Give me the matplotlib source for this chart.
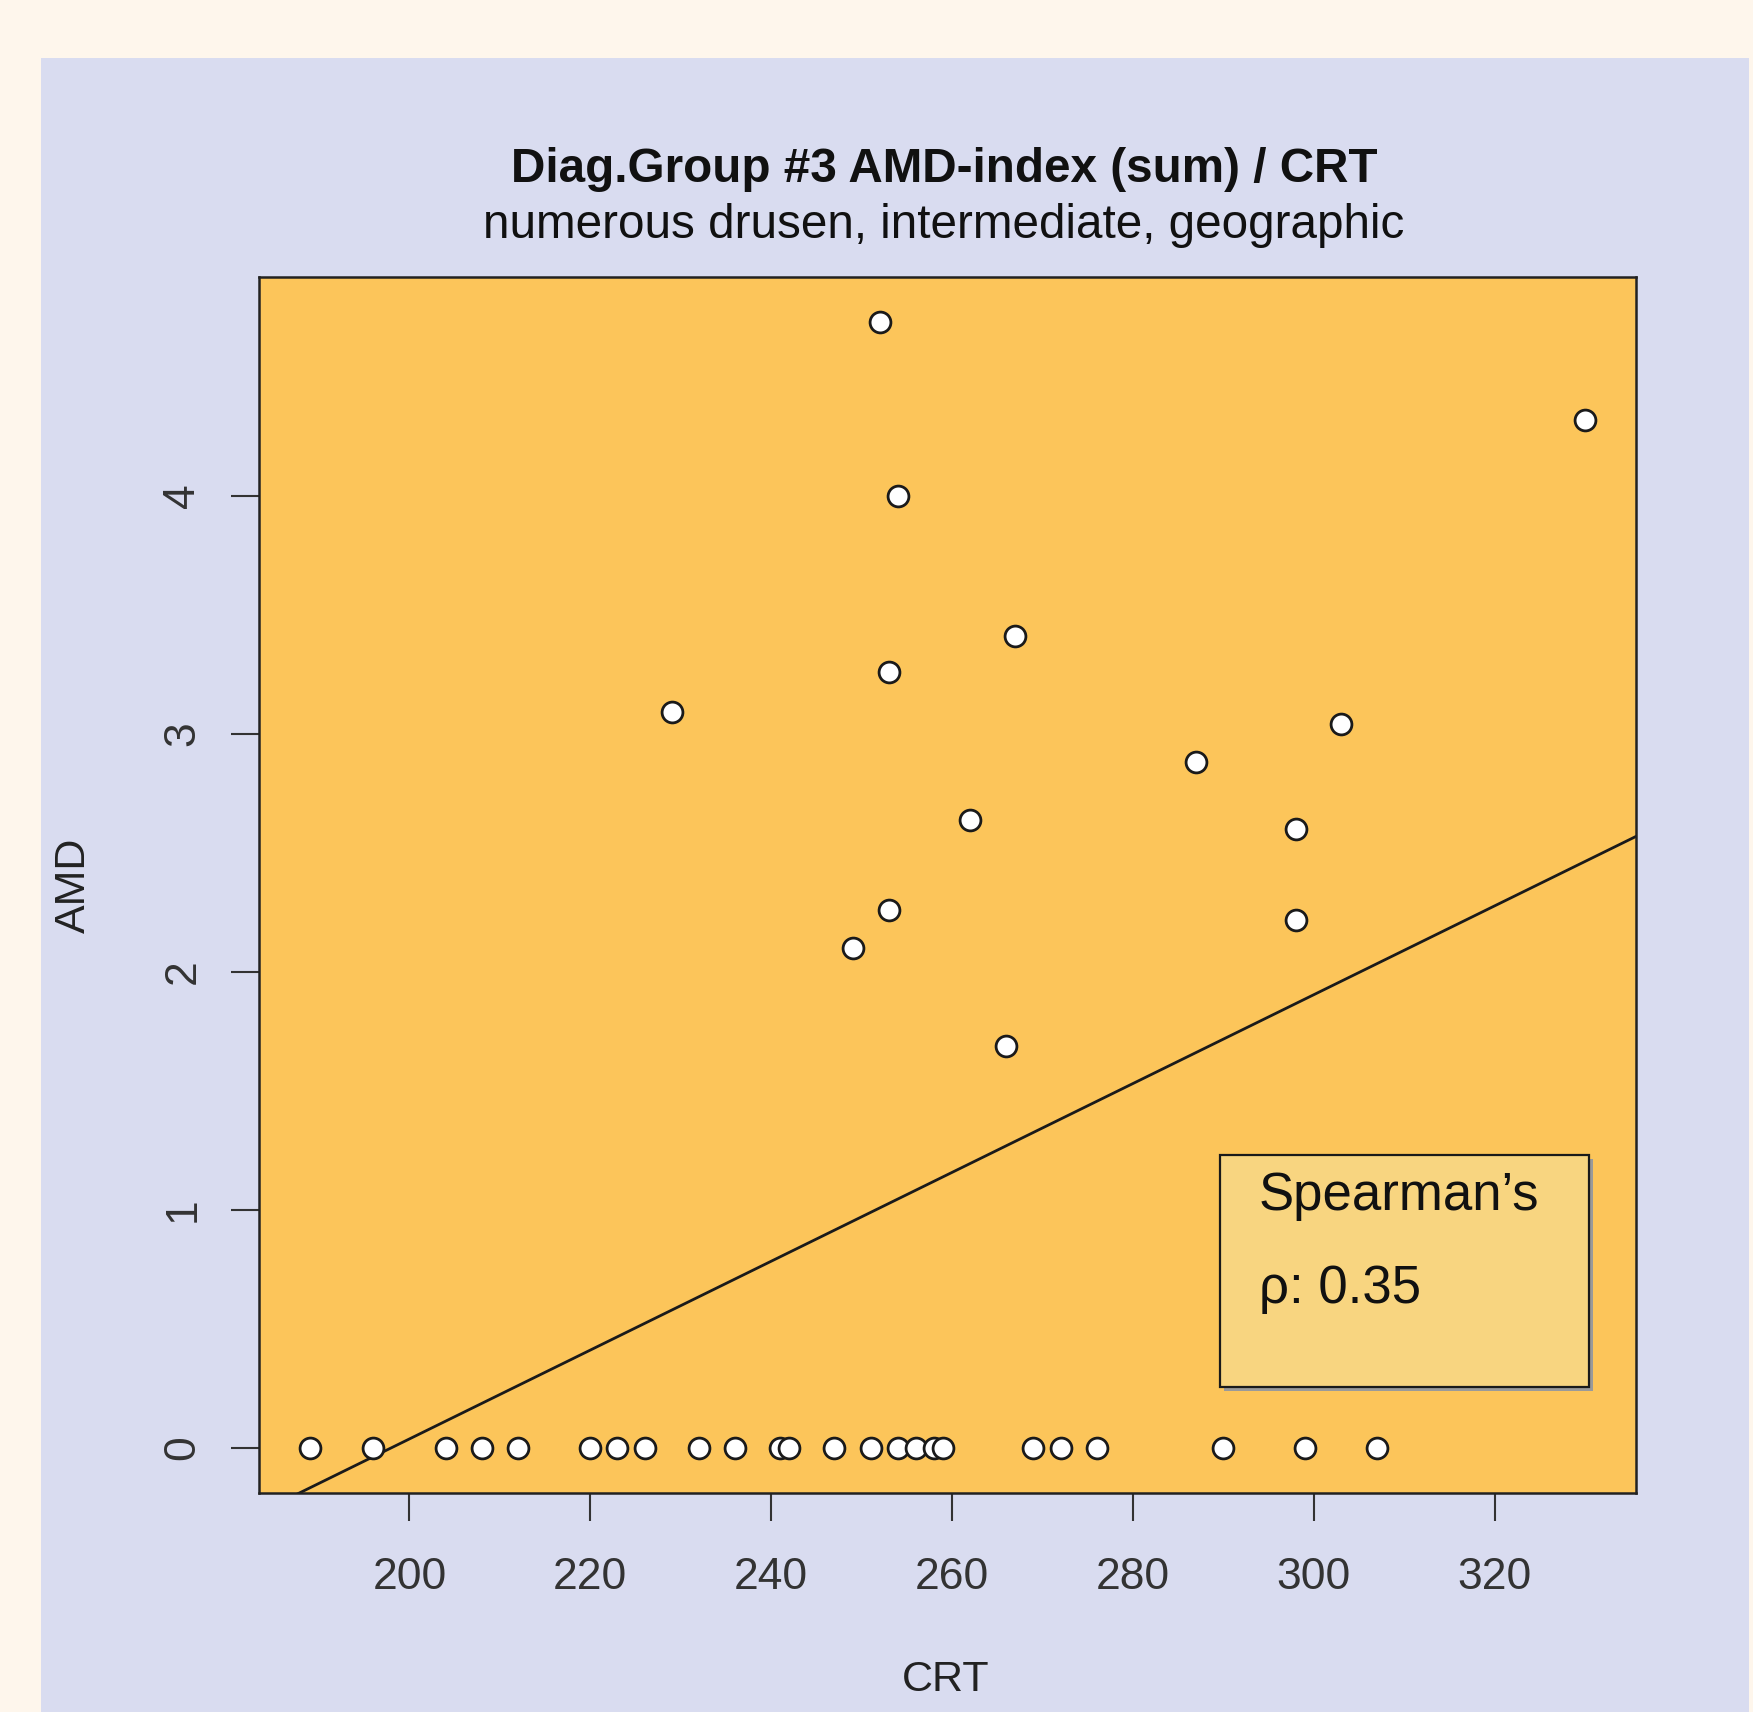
import matplotlib
matplotlib.use("Agg")
import matplotlib.pyplot as plt
from matplotlib.patches import Rectangle
import numpy as np

plt.rcParams['font.family'] = ['Liberation Sans', 'DejaVu Sans']

# CRT / AMD-index pairs, group 3
crt_pos = [252, 330, 254, 267, 253, 229, 303, 287, 262, 298, 253, 298, 249, 266]
amd_pos = [4.73, 4.32, 4.00, 3.41, 3.26, 3.09, 3.04, 2.88, 2.64, 2.60, 2.26, 2.22, 2.10, 1.69]
crt_zero = [189, 196, 204, 208, 212, 220, 223, 226, 232, 236, 241, 242, 247,
            251, 254, 256, 258, 259, 269, 272, 276, 290, 299, 307]
amd_zero = [0] * len(crt_zero)

# fitted trend line
line_slope = 0.01866
line_icpt = -3.694
rho = 0.35

xticks = [200, 220, 240, 260, 280, 300, 320]
yticks = [0, 1, 2, 3, 4]

crt = np.array(crt_pos + crt_zero, dtype=float)
amd = np.array(amd_pos + amd_zero, dtype=float)

W, H = 1753, 1712
fig = plt.figure(figsize=(W / 100, H / 100), dpi=100)
fig.patch.set_facecolor('#FEF6EC')

# lavender panel behind the plot
fig.patches.append(Rectangle((41 / W, 0), (1749 - 41) / W, (H - 58) / H,
                             transform=fig.transFigure, facecolor='#D9DCF0',
                             edgecolor='none', zorder=-5))

ax = fig.add_axes([259 / W, (H - 1493) / H, (1636 - 259) / W, (1493 - 277) / H])
ax.set_zorder(2)
ax.set_facecolor('#FCC55A')

# R-style 4% padding on both ranges
xr = crt.max() - crt.min()
yr = amd.max() - amd.min()
ax.set_xlim(crt.min() - 0.04 * xr, crt.max() + 0.04 * xr)
ax.set_ylim(amd.min() - 0.04 * yr, amd.max() + 0.04 * yr)

xs = np.array(ax.get_xlim())
ax.plot(xs, line_icpt + line_slope * xs, color='#1a1a1a', lw=2.0, zorder=2)
ax.scatter(crt, amd, s=225, facecolor='white', edgecolor='#1a1a1a',
           linewidth=2.0, zorder=3)

ax.set_xticks(xticks)
ax.set_yticks(yticks)
ax.tick_params(axis='both', length=20, width=1.5, color='#333333',
               labelcolor='#333333', labelsize=32)
ax.tick_params(axis='x', pad=26)
ax.tick_params(axis='y', pad=20)
for lab in ax.get_yticklabels():
    lab.set_rotation(90)
    lab.set_va('center')
for sp in ax.spines.values():
    sp.set_linewidth(1.8)
    sp.set_color('#222222')

# Spearman box
ax.add_patch(Rectangle((0.701, 0.084), 0.268, 0.191, transform=ax.transAxes,
                       facecolor='#9a9a9a', edgecolor='none', zorder=4))
ax.add_patch(Rectangle((0.698, 0.087), 0.268, 0.191, transform=ax.transAxes,
                       facecolor='#F8D580', edgecolor='#1a1a1a', lw=1.6, zorder=5))
ax.text(0.726, 0.244, "Spearman\u2019s", transform=ax.transAxes, fontsize=38,
        color='#111111', va='center', ha='left', zorder=6)
ax.text(0.726, 0.168, "\u03c1: %.2f" % rho, transform=ax.transAxes, fontsize=38,
        color='#111111', va='center', ha='left', zorder=6)

fig.text(944 / W, 1 - 170 / H, "Diag.Group #3 AMD-index (sum) / CRT",
         fontsize=34.3, fontweight='bold', color='#111111', ha='center', va='center')
fig.text(944 / W, 1 - 226 / H, "numerous drusen, intermediate, geographic",
         fontsize=34.3, color='#111111', ha='center', va='center')
fig.text(946 / W, 1 - 1680 / H, "CRT", fontsize=31, color='#222222',
         ha='center', va='center')
fig.text(74 / W, 1 - 885 / H, "AMD", fontsize=31, color='#222222',
         ha='center', va='center', rotation=90)

fig.savefig('out.png', dpi=100, facecolor=fig.get_facecolor())
